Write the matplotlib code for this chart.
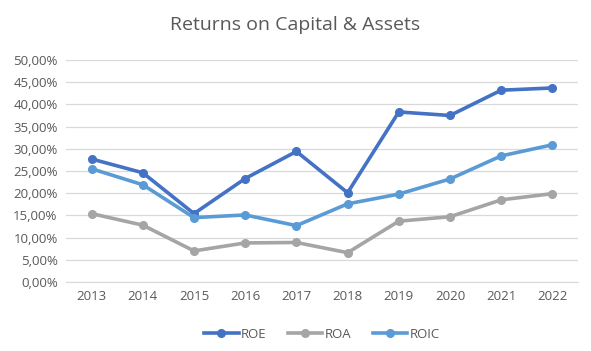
import matplotlib
matplotlib.use("Agg")
import matplotlib.pyplot as plt
from matplotlib.ticker import FuncFormatter, MultipleLocator

years = ["2013", "2014", "2015", "2016", "2017", "2018", "2019", "2020", "2021", "2022"]
roe = [27.7, 24.6, 15.4, 23.3, 29.4, 20.1, 38.3, 37.5, 43.2, 43.7]
roa = [15.4, 12.8, 7.0, 8.8, 8.9, 6.6, 13.7, 14.7, 18.5, 19.9]
roic = [25.5, 21.9, 14.5, 15.1, 12.7, 17.6, 19.8, 23.2, 28.4, 30.9]

plt.rcParams['font.family'] = ['Open Sans', 'DejaVu Sans']

fig = plt.figure(figsize=(5.91, 3.51), dpi=100)
ax = fig.add_axes([66/591, 69/351, (578-66)/591, (282-60)/351])

x = range(len(years))
for vals, color, label in [(roe, '#4472C4', 'ROE'), (roa, '#A5A5A5', 'ROA'), (roic, '#5B9BD5', 'ROIC')]:
    ax.plot(x, vals, color=color, lw=2.6, marker='o', ms=5.5, label=label, solid_joinstyle='round')

ax.set_xlim(-0.5, len(years) - 0.5)
ax.set_ylim(0, 50)
ax.yaxis.set_major_locator(MultipleLocator(5))
ax.yaxis.set_major_formatter(FuncFormatter(lambda v, p: f"{v:.2f}%".replace('.', ',')))
ax.set_xticks(list(x))
ax.set_xticklabels(years)
ax.grid(axis='y', color='#D9D9D9', lw=0.9)
ax.set_axisbelow(True)
for s in ['top', 'right', 'left']:
    ax.spines[s].set_visible(False)
ax.spines['bottom'].set_color('#D9D9D9')
ax.tick_params(axis='both', length=0, labelsize=9.5, colors='#595959', pad=6)

fig.suptitle("Returns on Capital & Assets", x=0.5, y=1 - 25/351, va='center', fontsize=14, color='#595959')

ax.legend(loc='center', bbox_to_anchor=(0.5, -(334 - 282) / 222), ncol=3, frameon=False,
          fontsize=9.5, labelcolor='#595959', handlelength=2.6, columnspacing=1.6, handletextpad=0.2)

fig.savefig("out.png", dpi=100, facecolor='white')
